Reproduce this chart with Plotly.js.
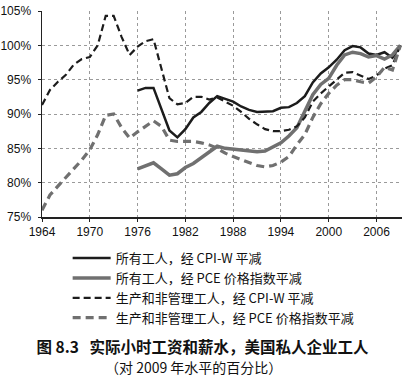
<!DOCTYPE html>
<html>
<head>
<meta charset="utf-8">
<script src="https://cdn.plot.ly/plotly-3.0.1.min.js"></script>
<style>html,body{margin:0;padding:0;background:#fff;}#chart{width:410px;height:384px;}</style>
</head>
<body>
<div id="chart"></div>
<script>
// Years
const yearsLong = [1964,1965,1966,1967,1968,1969,1970,1971,1972,1973,1974,1975,1976,1977,1978,1979,1980,1981,1982,1983,1984,1985,1986,1987,1988,1989,1990,1991,1992,1993,1994,1995,1996,1997,1998,1999,2000,2001,2002,2003,2004,2005,2006,2007,2008,2009];
const yearsShort = [1976,1977,1978,1979,1980,1981,1982,1983,1984,1985,1986,1987,1988,1989,1990,1991,1992,1993,1994,1995,1996,1997,1998,1999,2000,2001,2002,2003,2004,2005,2006,2007,2008,2009];

// All workers, deflated by CPI-W
const allCpiw = [93.4,93.8,93.8,90.8,87.6,86.6,87.8,89.5,90.3,91.6,92.6,92.2,91.8,91.1,90.6,90.3,90.3,90.4,90.9,91.0,91.6,92.6,94.6,95.9,96.8,97.9,99.3,99.9,99.7,98.8,98.6,99.0,98.2,100];
// All workers, deflated by PCE price index
const allPce = [82.0,82.5,82.9,82.0,81.1,81.3,82.2,82.8,83.6,84.4,85.3,85.0,84.9,84.8,84.6,84.5,84.6,85.2,85.8,86.8,88.0,90.4,92.8,94.3,95.2,97.1,98.6,99.0,98.8,98.3,98.5,98.0,98.6,100];
// Production & nonsupervisory workers, deflated by CPI-W
const prodCpiw = [91.3,93.5,94.7,95.7,97.2,98.0,98.3,100.0,104.3,104.3,101.2,98.6,99.8,100.6,100.9,96.5,92.3,91.4,91.6,92.5,92.5,92.1,92.4,91.8,91.2,90.3,89.3,88.5,87.8,87.5,87.5,87.7,88.2,89.5,91.8,93.0,94.0,95.0,96.0,96.1,95.6,95.1,95.6,96.6,97.1,100];
// Production & nonsupervisory workers, deflated by PCE price index
const prodPce = [76.0,78.2,79.5,80.8,82.0,83.3,84.8,87.0,89.8,90.0,88.0,86.5,87.4,88.2,89.0,88.2,86.2,86.0,86.0,86.0,85.8,85.5,85.0,84.3,83.8,83.4,83.0,82.5,82.3,82.5,83.0,83.8,85.5,87.0,89.5,91.5,93.0,94.2,95.0,95.0,94.7,94.5,95.4,96.8,96.4,100];

const names = [
  '所有工人，经 CPI-W 平减',
  '所有工人，经 PCE 价格指数平减',
  '生产和非管理工人，经 CPI-W 平减',
  '生产和非管理工人，经 PCE 价格指数平减'
];
const xTicks = [1964,1970,1976,1982,1988,1994,2000,2006];
const yTicks = [75,80,85,90,95,100,105];

const black = '#1c1c1c', gray = '#707070';
const traces = [
  {x: yearsShort, y: allCpiw, name: names[0], mode: 'lines', line: {color: black, width: 2.5}},
  {x: yearsShort, y: allPce, name: names[1], mode: 'lines', line: {color: gray, width: 3.5}},
  {x: yearsLong, y: prodCpiw, name: names[2], mode: 'lines', line: {color: black, width: 2.2, dash: '7px,4px'}},
  {x: yearsLong, y: prodPce, name: names[3], mode: 'lines', line: {color: gray, width: 3.2, dash: '8px,5px'}}
];

const layout = {
  width: 410, height: 384,
  margin: {l: 42, r: 8, t: 11, b: 167, autoexpand: false},
  paper_bgcolor: '#fff', plot_bgcolor: '#fff',
  font: {family: 'Liberation Sans, Arial, sans-serif', size: 12, color: '#111'},
  showlegend: true,
  xaxis: {
    range: [1964, 2009.2], tickvals: xTicks, ticktext: xTicks.map(String),
    showline: true, linecolor: '#222', linewidth: 1.5,
    ticks: 'outside', ticklen: 3, tickcolor: '#222', tickangle: 0, automargin: false,
    showgrid: true, gridcolor: '#9a9a9a', griddash: 'dot', gridwidth: 1,
    zeroline: false, tickfont: {size: 12, color: '#111'}
  },
  yaxis: {
    range: [75, 105], tickvals: yTicks, ticktext: yTicks.map(v => v + '%'),
    showline: true, linecolor: '#222', linewidth: 1.5,
    ticks: 'outside', ticklen: 3, tickcolor: '#222', automargin: false, ticklabelstandoff: 4,
    showgrid: true, gridcolor: '#9a9a9a', griddash: 'dot', gridwidth: 1,
    zeroline: false, tickfont: {size: 12, color: '#111'}
  },
  legend: {
    xref: 'container', yref: 'container', x: 0.165, y: 0.367,
    xanchor: 'left', yanchor: 'top', orientation: 'v',
    font: {family: 'Noto Sans CJK SC, sans-serif', size: 13, color: '#111'},
    bgcolor: 'rgba(0,0,0,0)', itemwidth: 38, tracegroupgap: 0
  },
  title: {
    text: '<b>图 8.3\u00a0\u00a0\u00a0实际小时工资和薪水，美国私人企业工人</b>',
    font: {family: 'Noto Sans CJK SC, sans-serif', size: 15.5, color: '#111'},
    xref: 'container', yref: 'container', x: 0.494, y: 0.094, xanchor: 'center', yanchor: 'middle'
  },
  annotations: [{
    text: '（对 2009 年水平的百分比）', xref: 'paper', yref: 'paper',
    x: 0.421, y: -0.728, xanchor: 'center', yanchor: 'middle', showarrow: false,
    font: {family: 'Noto Sans CJK SC, sans-serif', size: 14, color: '#111'}
  }]
};

Plotly.newPlot('chart', traces, layout, {displayModeBar: false, staticPlot: true});
</script>
</body>
</html>
